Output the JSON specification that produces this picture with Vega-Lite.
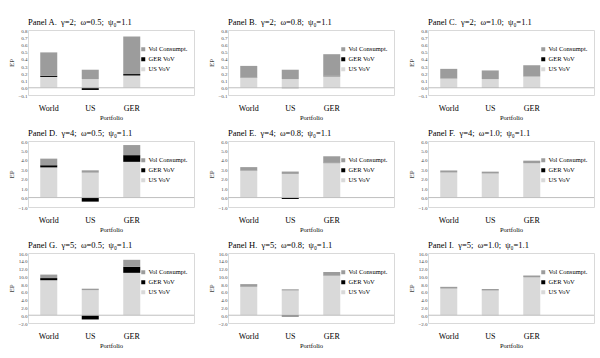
{
"$schema":"https://vega.github.io/schema/vega-lite/v6.json",
"background":"white",
"padding":{"left":7,"top":17,"right":0,"bottom":0},
"datasets":{"d":[
{"p":"A","q":"World","c":"US VoV","v":0.15},{"p":"A","q":"World","c":"GER VoV","v":0.015},{"p":"A","q":"World","c":"Vol Consumpt.","v":0.325},
{"p":"A","q":"US","c":"US VoV","v":0.12},{"p":"A","q":"US","c":"GER VoV","v":-0.03},{"p":"A","q":"US","c":"Vol Consumpt.","v":0.13},
{"p":"A","q":"GER","c":"US VoV","v":0.17},{"p":"A","q":"GER","c":"GER VoV","v":0.02},{"p":"A","q":"GER","c":"Vol Consumpt.","v":0.52},
{"p":"B","q":"World","c":"US VoV","v":0.14},{"p":"B","q":"World","c":"GER VoV","v":0.003},{"p":"B","q":"World","c":"Vol Consumpt.","v":0.16},
{"p":"B","q":"US","c":"US VoV","v":0.12},{"p":"B","q":"US","c":"GER VoV","v":-0.005},{"p":"B","q":"US","c":"Vol Consumpt.","v":0.13},
{"p":"B","q":"GER","c":"US VoV","v":0.16},{"p":"B","q":"GER","c":"GER VoV","v":0.005},{"p":"B","q":"GER","c":"Vol Consumpt.","v":0.30},
{"p":"C","q":"World","c":"US VoV","v":0.13},{"p":"C","q":"World","c":"GER VoV","v":0.002},{"p":"C","q":"World","c":"Vol Consumpt.","v":0.13},
{"p":"C","q":"US","c":"US VoV","v":0.12},{"p":"C","q":"US","c":"GER VoV","v":-0.002},{"p":"C","q":"US","c":"Vol Consumpt.","v":0.12},
{"p":"C","q":"GER","c":"US VoV","v":0.16},{"p":"C","q":"GER","c":"GER VoV","v":0.002},{"p":"C","q":"GER","c":"Vol Consumpt.","v":0.15},
{"p":"D","q":"World","c":"US VoV","v":3.2},{"p":"D","q":"World","c":"GER VoV","v":0.23},{"p":"D","q":"World","c":"Vol Consumpt.","v":0.7},
{"p":"D","q":"US","c":"US VoV","v":2.64},{"p":"D","q":"US","c":"GER VoV","v":-0.43},{"p":"D","q":"US","c":"Vol Consumpt.","v":0.25},
{"p":"D","q":"GER","c":"US VoV","v":3.79},{"p":"D","q":"GER","c":"GER VoV","v":0.71},{"p":"D","q":"GER","c":"Vol Consumpt.","v":1.07},
{"p":"E","q":"World","c":"US VoV","v":2.87},{"p":"E","q":"World","c":"GER VoV","v":0.02},{"p":"E","q":"World","c":"Vol Consumpt.","v":0.34},
{"p":"E","q":"US","c":"US VoV","v":2.51},{"p":"E","q":"US","c":"GER VoV","v":-0.15},{"p":"E","q":"US","c":"Vol Consumpt.","v":0.25},
{"p":"E","q":"GER","c":"US VoV","v":3.66},{"p":"E","q":"GER","c":"GER VoV","v":0.03},{"p":"E","q":"GER","c":"Vol Consumpt.","v":0.69},
{"p":"F","q":"World","c":"US VoV","v":2.66},{"p":"F","q":"World","c":"GER VoV","v":0.005},{"p":"F","q":"World","c":"Vol Consumpt.","v":0.21},
{"p":"F","q":"US","c":"US VoV","v":2.55},{"p":"F","q":"US","c":"GER VoV","v":-0.01},{"p":"F","q":"US","c":"Vol Consumpt.","v":0.2},
{"p":"F","q":"GER","c":"US VoV","v":3.66},{"p":"F","q":"GER","c":"GER VoV","v":0.005},{"p":"F","q":"GER","c":"Vol Consumpt.","v":0.25},
{"p":"G","q":"World","c":"US VoV","v":9.0},{"p":"G","q":"World","c":"GER VoV","v":0.55},{"p":"G","q":"World","c":"Vol Consumpt.","v":0.9},
{"p":"G","q":"US","c":"US VoV","v":6.45},{"p":"G","q":"US","c":"GER VoV","v":-1.09},{"p":"G","q":"US","c":"Vol Consumpt.","v":0.37},
{"p":"G","q":"GER","c":"US VoV","v":10.9},{"p":"G","q":"GER","c":"GER VoV","v":1.55},{"p":"G","q":"GER","c":"Vol Consumpt.","v":1.8},
{"p":"H","q":"World","c":"US VoV","v":7.3},{"p":"H","q":"World","c":"GER VoV","v":0.03},{"p":"H","q":"World","c":"Vol Consumpt.","v":0.67},
{"p":"H","q":"US","c":"US VoV","v":6.35},{"p":"H","q":"US","c":"GER VoV","v":-0.3},{"p":"H","q":"US","c":"Vol Consumpt.","v":0.32},
{"p":"H","q":"GER","c":"US VoV","v":10.2},{"p":"H","q":"GER","c":"GER VoV","v":0.05},{"p":"H","q":"GER","c":"Vol Consumpt.","v":0.86},
{"p":"I","q":"World","c":"US VoV","v":6.85},{"p":"I","q":"World","c":"GER VoV","v":0.01},{"p":"I","q":"World","c":"Vol Consumpt.","v":0.44},
{"p":"I","q":"US","c":"US VoV","v":6.35},{"p":"I","q":"US","c":"GER VoV","v":-0.02},{"p":"I","q":"US","c":"Vol Consumpt.","v":0.4},
{"p":"I","q":"GER","c":"US VoV","v":9.75},{"p":"I","q":"GER","c":"GER VoV","v":0.01},{"p":"I","q":"GER","c":"Vol Consumpt.","v":0.45}
]},
"data":{"name":"d"},
"columns":3,
"spacing":{"row":7,"column":12},
"resolve":{"scale":{"x":"independent","y":"independent","color":"independent"},"legend":{"color":"independent"}},
"concat":[
{"title":"Panel A.\u00a0 γ=2;\u00a0 ω=0.5;\u00a0 ψ₀=1.1","width":166,"height":65,"layer":[
 {"transform":[{"filter":"datum.p=='A'"},{"calculate":"indexof(['US VoV','GER VoV','Vol Consumpt.'],datum.c)","as":"o"}],"mark":"bar","encoding":{
  "x":{"field":"q","type":"nominal","sort":null,"scale":{"domain":["World","US","GER"," "],"paddingInner":0.59,"paddingOuter":0.295},"title":"Portfolio"},
  "y":{"field":"v","type":"quantitative","stack":"zero","scale":{"domain":[-0.1,0.8],"nice":false,"zero":false},"axis":{"tickCount":9,"format":".1f","labelOverlap":false},"title":"EP"},
  "color":{"field":"c","type":"nominal","scale":{"domain":["Vol Consumpt.","GER VoV","US VoV"],"range":["#9c9c9c","#000000","#d9d9d9"]},"legend":{"title":null}},
  "order":{"field":"o","type":"quantitative"}}},
 {"data":{"values":[{}]},"mark":{"type":"rule","color":"#bfbfbf"},"encoding":{"y":{"datum":0}}}]},
{"title":"Panel B.\u00a0 γ=2;\u00a0 ω=0.8;\u00a0 ψ₀=1.1","width":166,"height":65,"layer":[
 {"transform":[{"filter":"datum.p=='B'"},{"calculate":"indexof(['US VoV','GER VoV','Vol Consumpt.'],datum.c)","as":"o"}],"mark":"bar","encoding":{
  "x":{"field":"q","type":"nominal","sort":null,"scale":{"domain":["World","US","GER"," "],"paddingInner":0.59,"paddingOuter":0.295},"title":"Portfolio"},
  "y":{"field":"v","type":"quantitative","stack":"zero","scale":{"domain":[-0.1,0.8],"nice":false,"zero":false},"axis":{"tickCount":9,"format":".1f","labelOverlap":false},"title":"EP"},
  "color":{"field":"c","type":"nominal","scale":{"domain":["Vol Consumpt.","GER VoV","US VoV"],"range":["#9c9c9c","#000000","#d9d9d9"]},"legend":{"title":null}},
  "order":{"field":"o","type":"quantitative"}}},
 {"data":{"values":[{}]},"mark":{"type":"rule","color":"#bfbfbf"},"encoding":{"y":{"datum":0}}}]},
{"title":"Panel C.\u00a0 γ=2;\u00a0 ω=1.0;\u00a0 ψ₀=1.1","width":166,"height":65,"layer":[
 {"transform":[{"filter":"datum.p=='C'"},{"calculate":"indexof(['US VoV','GER VoV','Vol Consumpt.'],datum.c)","as":"o"}],"mark":"bar","encoding":{
  "x":{"field":"q","type":"nominal","sort":null,"scale":{"domain":["World","US","GER"," "],"paddingInner":0.59,"paddingOuter":0.295},"title":"Portfolio"},
  "y":{"field":"v","type":"quantitative","stack":"zero","scale":{"domain":[-0.1,0.8],"nice":false,"zero":false},"axis":{"tickCount":9,"format":".1f","labelOverlap":false},"title":"EP"},
  "color":{"field":"c","type":"nominal","scale":{"domain":["Vol Consumpt.","GER VoV","US VoV"],"range":["#9c9c9c","#000000","#d9d9d9"]},"legend":{"title":null}},
  "order":{"field":"o","type":"quantitative"}}},
 {"data":{"values":[{}]},"mark":{"type":"rule","color":"#bfbfbf"},"encoding":{"y":{"datum":0}}}]},
{"title":"Panel D.\u00a0 γ=4;\u00a0 ω=0.5;\u00a0 ψ₀=1.1","width":166,"height":66,"layer":[
 {"transform":[{"filter":"datum.p=='D'"},{"calculate":"indexof(['US VoV','GER VoV','Vol Consumpt.'],datum.c)","as":"o"}],"mark":"bar","encoding":{
  "x":{"field":"q","type":"nominal","sort":null,"scale":{"domain":["World","US","GER"," "],"paddingInner":0.59,"paddingOuter":0.295},"title":"Portfolio"},
  "y":{"field":"v","type":"quantitative","stack":"zero","scale":{"domain":[-1,6],"nice":false,"zero":false},"axis":{"tickCount":7,"format":".1f","labelOverlap":false},"title":"EP"},
  "color":{"field":"c","type":"nominal","scale":{"domain":["Vol Consumpt.","GER VoV","US VoV"],"range":["#9c9c9c","#000000","#d9d9d9"]},"legend":{"title":null}},
  "order":{"field":"o","type":"quantitative"}}},
 {"data":{"values":[{}]},"mark":{"type":"rule","color":"#bfbfbf"},"encoding":{"y":{"datum":0}}}]},
{"title":"Panel E.\u00a0 γ=4;\u00a0 ω=0.8;\u00a0 ψ₀=1.1","width":166,"height":66,"layer":[
 {"transform":[{"filter":"datum.p=='E'"},{"calculate":"indexof(['US VoV','GER VoV','Vol Consumpt.'],datum.c)","as":"o"}],"mark":"bar","encoding":{
  "x":{"field":"q","type":"nominal","sort":null,"scale":{"domain":["World","US","GER"," "],"paddingInner":0.59,"paddingOuter":0.295},"title":"Portfolio"},
  "y":{"field":"v","type":"quantitative","stack":"zero","scale":{"domain":[-1,6],"nice":false,"zero":false},"axis":{"tickCount":7,"format":".1f","labelOverlap":false},"title":"EP"},
  "color":{"field":"c","type":"nominal","scale":{"domain":["Vol Consumpt.","GER VoV","US VoV"],"range":["#9c9c9c","#000000","#d9d9d9"]},"legend":{"title":null}},
  "order":{"field":"o","type":"quantitative"}}},
 {"data":{"values":[{}]},"mark":{"type":"rule","color":"#bfbfbf"},"encoding":{"y":{"datum":0}}}]},
{"title":"Panel F.\u00a0 γ=4;\u00a0 ω=1.0;\u00a0 ψ₀=1.1","width":166,"height":66,"layer":[
 {"transform":[{"filter":"datum.p=='F'"},{"calculate":"indexof(['US VoV','GER VoV','Vol Consumpt.'],datum.c)","as":"o"}],"mark":"bar","encoding":{
  "x":{"field":"q","type":"nominal","sort":null,"scale":{"domain":["World","US","GER"," "],"paddingInner":0.59,"paddingOuter":0.295},"title":"Portfolio"},
  "y":{"field":"v","type":"quantitative","stack":"zero","scale":{"domain":[-1,6],"nice":false,"zero":false},"axis":{"tickCount":7,"format":".1f","labelOverlap":false},"title":"EP"},
  "color":{"field":"c","type":"nominal","scale":{"domain":["Vol Consumpt.","GER VoV","US VoV"],"range":["#9c9c9c","#000000","#d9d9d9"]},"legend":{"title":null}},
  "order":{"field":"o","type":"quantitative"}}},
 {"data":{"values":[{}]},"mark":{"type":"rule","color":"#bfbfbf"},"encoding":{"y":{"datum":0}}}]},
{"title":"Panel G.\u00a0 γ=5;\u00a0 ω=0.5;\u00a0 ψ₀=1.1","width":166,"height":70,"layer":[
 {"transform":[{"filter":"datum.p=='G'"},{"calculate":"indexof(['US VoV','GER VoV','Vol Consumpt.'],datum.c)","as":"o"}],"mark":"bar","encoding":{
  "x":{"field":"q","type":"nominal","sort":null,"scale":{"domain":["World","US","GER"," "],"paddingInner":0.59,"paddingOuter":0.295},"title":"Portfolio"},
  "y":{"field":"v","type":"quantitative","stack":"zero","scale":{"domain":[-2,16],"nice":false,"zero":false},"axis":{"tickCount":9,"format":".1f","labelOverlap":false},"title":"EP"},
  "color":{"field":"c","type":"nominal","scale":{"domain":["Vol Consumpt.","GER VoV","US VoV"],"range":["#9c9c9c","#000000","#d9d9d9"]},"legend":{"title":null}},
  "order":{"field":"o","type":"quantitative"}}},
 {"data":{"values":[{}]},"mark":{"type":"rule","color":"#bfbfbf"},"encoding":{"y":{"datum":0}}}]},
{"title":"Panel H.\u00a0 γ=5;\u00a0 ω=0.8;\u00a0 ψ₀=1.1","width":166,"height":70,"layer":[
 {"transform":[{"filter":"datum.p=='H'"},{"calculate":"indexof(['US VoV','GER VoV','Vol Consumpt.'],datum.c)","as":"o"}],"mark":"bar","encoding":{
  "x":{"field":"q","type":"nominal","sort":null,"scale":{"domain":["World","US","GER"," "],"paddingInner":0.59,"paddingOuter":0.295},"title":"Portfolio"},
  "y":{"field":"v","type":"quantitative","stack":"zero","scale":{"domain":[-2,16],"nice":false,"zero":false},"axis":{"tickCount":9,"format":".1f","labelOverlap":false},"title":"EP"},
  "color":{"field":"c","type":"nominal","scale":{"domain":["Vol Consumpt.","GER VoV","US VoV"],"range":["#9c9c9c","#000000","#d9d9d9"]},"legend":{"title":null}},
  "order":{"field":"o","type":"quantitative"}}},
 {"data":{"values":[{}]},"mark":{"type":"rule","color":"#bfbfbf"},"encoding":{"y":{"datum":0}}}]},
{"title":"Panel I.\u00a0 γ=5;\u00a0 ω=1.0;\u00a0 ψ₀=1.1","width":166,"height":70,"layer":[
 {"transform":[{"filter":"datum.p=='I'"},{"calculate":"indexof(['US VoV','GER VoV','Vol Consumpt.'],datum.c)","as":"o"}],"mark":"bar","encoding":{
  "x":{"field":"q","type":"nominal","sort":null,"scale":{"domain":["World","US","GER"," "],"paddingInner":0.59,"paddingOuter":0.295},"title":"Portfolio"},
  "y":{"field":"v","type":"quantitative","stack":"zero","scale":{"domain":[-2,16],"nice":false,"zero":false},"axis":{"tickCount":9,"format":".1f","labelOverlap":false},"title":"EP"},
  "color":{"field":"c","type":"nominal","scale":{"domain":["Vol Consumpt.","GER VoV","US VoV"],"range":["#9c9c9c","#000000","#d9d9d9"]},"legend":{"title":null}},
  "order":{"field":"o","type":"quantitative"}}},
 {"data":{"values":[{}]},"mark":{"type":"rule","color":"#bfbfbf"},"encoding":{"y":{"datum":0}}}]}
],
"config":{
 "font":"Liberation Serif",
 "view":{"stroke":"#d9d9d9","strokeWidth":1},
 "title":{"font":"Liberation Serif","fontSize":8.5,"fontWeight":"normal","anchor":"start","frame":"group","offset":2,"color":"#000000"},
 "axisX":{"labelFont":"Liberation Serif","labelFontSize":8,"labelColor":"#000000","labelAngle":0,"labelPadding":9,"ticks":false,"domain":false,"grid":false,"titleFont":"Liberation Serif","titleFontSize":6.5,"titleFontWeight":"normal","titleColor":"#000000","titlePadding":2},
 "axisY":{"labelFont":"Liberation Serif","labelFontSize":5,"labelColor":"#404040","labelPadding":1,"labelOverlap":false,"ticks":false,"domain":false,"grid":false,"titleFont":"Liberation Serif","titleFontSize":7,"titleFontWeight":"normal","titleColor":"#404040","titlePadding":3},
 "legend":{"orient":"none","legendX":112,"legendY":16,"symbolType":"square","symbolSize":16,"symbolStrokeWidth":0,"labelFont":"Liberation Serif","labelFontSize":6.5,"labelColor":"#000000","rowPadding":3,"labelOffset":2}
}
}
